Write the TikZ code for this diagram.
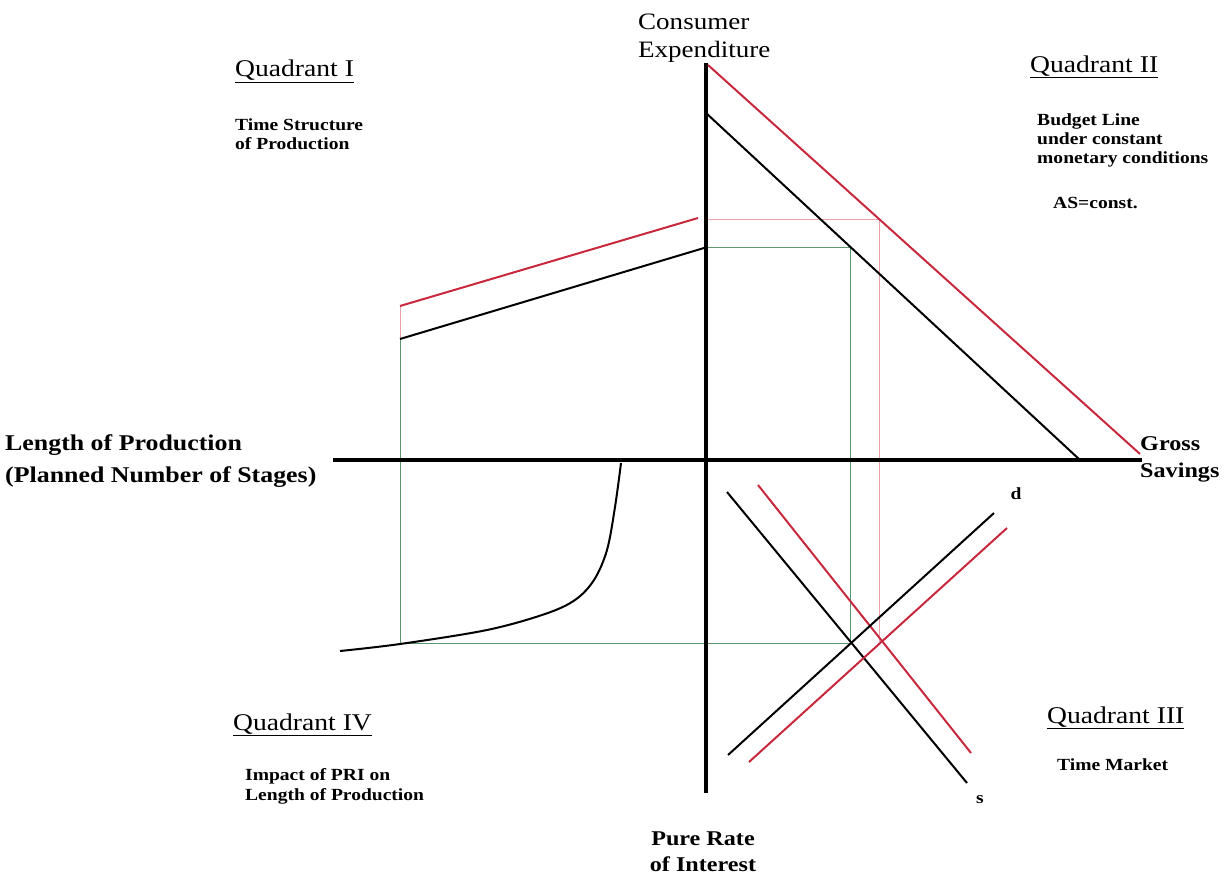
\documentclass[tikz,border=0pt]{standalone}
\usepackage{fontspec}
\setmainfont{Liberation Serif}[FakeStretch=1.15]
\definecolor{redcol}{RGB}{200,40,60}
\definecolor{pinkcol}{RGB}{235,160,170}
\definecolor{greencol}{RGB}{90,150,110}
\tikzset{
  axisline/.style={line width=4pt, black},
  blackln/.style={line width=2pt, black},
  redln/.style={line width=2pt, redcol},
  guidep/.style={line width=1pt, pinkcol},
  guideg/.style={line width=1pt, greencol},
  lbl/.style={inner sep=0pt, anchor=base west},
  lblc/.style={inner sep=0pt, anchor=base},
  qtitle/.style={lbl, font=\fontsize{24}{27}\selectfont},
  desc/.style={lbl, font=\fontsize{17}{19}\selectfont\bfseries},
  axlbl/.style={font=\fontsize{23.5}{27}\selectfont},
  axbold/.style={font=\fontsize{22.5}{32}\selectfont\bfseries},
  axboldsm/.style={font=\fontsize{21}{26}\selectfont\bfseries},
}
\begin{document}
\begin{tikzpicture}[x=1pt,y=-1pt]
\useasboundingbox (0,0) rectangle (1228,875);

% key coordinates
\coordinate (O) at (706,460);
\coordinate (Ytop) at (706,63);
\coordinate (Ybot) at (706,793);
\coordinate (Xleft) at (333,460);
\coordinate (Xright) at (1142,460);

% guide lines (drawn first)
\coordinate (P1) at (706,219);
\coordinate (P2) at (879,219);
\coordinate (P3) at (879,642);
\coordinate (G1) at (706,247);
\coordinate (G2) at (850,247);
\coordinate (G3) at (850,643);
\coordinate (G4) at (400,643);
\coordinate (G5) at (400,339);
\coordinate (R5) at (400,306);
\draw[guidep] (P1) -- (P2) -- (P3);
\draw[guidep] (R5) -- (G5);
\draw[guideg] (G1) -- (G2) -- (G3) -- (G4) -- (G5);

% axes
\draw[axisline] (Ytop) -- (Ybot);
\draw[axisline] (Xleft) -- (Xright);

% Quadrant II budget lines
\coordinate (BB1) at (706,113);
\coordinate (BB2) at (1080,460);
\coordinate (BR1) at (708,65);
\coordinate (BR2) at (1140,454);
\draw[blackln] (BB1) -- (BB2);
\draw[redln] (BR1) -- (BR2);

% Quadrant I time structure
\coordinate (TR2) at (698,218);
\coordinate (TB2) at (704,248);
\draw[redln] (R5) -- (TR2);
\draw[blackln] (G5) -- (TB2);

% Quadrant IV curve
\draw[blackln] plot[smooth, tension=0.55] coordinates
  {(340,651) (400,644) (487,630) (545,614) (575,600) (594,580) (607,550) (615,507) (621,463)};

% Quadrant III time market
\coordinate (S1) at (727,492);  \coordinate (S2) at (967,783);
\coordinate (RS1) at (758,485); \coordinate (RS2) at (971,753);
\coordinate (D1) at (728,755);  \coordinate (D2) at (994,513);
\coordinate (RD1) at (749,762); \coordinate (RD2) at (1007,528);
\draw[blackln] (S1) -- (S2);
\draw[redln] (RS1) -- (RS2);
\draw[blackln] (D1) -- (D2);
\draw[redln] (RD1) -- (RD2);
\node[inner sep=0pt, font=\fontsize{17}{19}\selectfont\bfseries] (dlbl) at (1016,494) {d};
\node[inner sep=0pt, font=\fontsize{17}{19}\selectfont\bfseries] (slbl) at (980,800) {s};

% Quadrant titles
\node[qtitle] (q1) at (235,77) {\underline{Quadrant I}};
\node[qtitle] (q2) at (1030,72) {\underline{Quadrant II}};
\node[qtitle] (q3) at (1047,723) {\underline{Quadrant III}};
\node[qtitle] (q4) at (233,730) {\underline{Quadrant IV}};

% descriptions
\node[desc] (d1a) at (235,130) {Time Structure};
\node[desc] (d1b) at (235,149) {of Production};
\node[desc] (d2a) at (1037,125) {Budget Line};
\node[desc] (d2b) at (1037,144) {under constant};
\node[desc] (d2c) at (1037,163) {monetary conditions};
\node[desc] (d2d) at (1053,208) {AS=const.};
\node[desc] (d3a) at (1057,770) {Time Market};
\node[desc] (d4a) at (245,780) {Impact of PRI on};
\node[desc] (d4b) at (245,800) {Length of Production};

% axis labels
\node[lbl, axlbl] (ce1) at (638,30) {Consumer};
\node[lbl, axlbl] (ce2) at (638,57) {Expenditure};
\node[lbl, axbold] (lp1) at (5,450) {Length of Production};
\node[lbl, axbold] (lp2) at (5,482) {(Planned Number of Stages)};
\node[lbl, axboldsm] (gs1) at (1140,450) {Gross};
\node[lbl, axboldsm] (gs2) at (1140,477) {Savings};
\node[lblc, axboldsm] (pr1) at (703,845) {Pure Rate};
\node[lblc, axboldsm] (pr2) at (703,871) {of Interest};
\end{tikzpicture}
\end{document}
